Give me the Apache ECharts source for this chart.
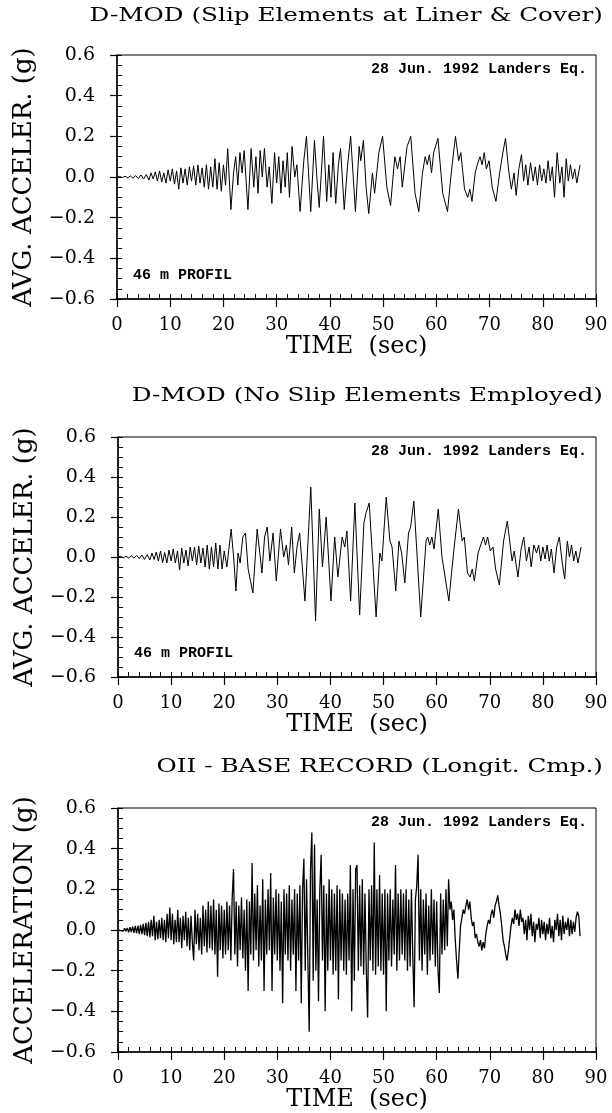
<!DOCTYPE html>
<html>
<head>
<meta charset="utf-8">
<script src="https://cdn.jsdelivr.net/npm/echarts@6.0.0/dist/echarts.min.js"></script>
<style>
html, body { margin: 0; padding: 0; background: #fff; }
#chart { width: 612px; height: 1113px; }
</style>
</head>
<body>
<div id="chart"></div>
<script>
// text
var panelTitles = ['D-MOD (Slip Elements at Liner & Cover)', 'D-MOD (No Slip Elements Employed)', 'OII - BASE RECORD (Longit. Cmp.)'];
var yNames = ['AVG. ACCELER. (g)', 'AVG. ACCELER. (g)', 'ACCELERATION (g)'];
var xName = 'TIME  (sec)';
var eventNote = '28 Jun. 1992 Landers Eq.';
var profileNote = '46 m PROFIL';

// time (s), acceleration (g)
var slipAccel = [[0,0],[0.5,0.003],[1,-0.003],[1.5,0.004],[2,-0.004],[2.5,0.005],[3,-0.006],[3.5,0.007],[4,-0.008],[4.5,0.01],[5,-0.01],[5.5,0.012],[6,-0.015],[6.4,0.02],[6.8,-0.01],[7.2,0.025],[7.6,-0.02],[8,0.03],[8.4,-0.025],[8.8,0.02],[9.2,-0.03],[9.6,0.035],[10,-0.02],[10.4,0.04],[10.8,-0.035],[11.2,0.03],[11.6,-0.06],[12,0.045],[12.4,-0.03],[12.8,0.04],[13.2,-0.04],[13.6,0.05],[14,-0.02],[14.4,0.055],[14.8,-0.04],[15.2,0.06],[15.6,-0.03],[16,0.045],[16.4,-0.05],[16.8,0.06],[17.2,-0.06],[17.6,0.05],[18,-0.05],[18.4,0.09],[18.8,-0.06],[19.2,0.07],[19.6,-0.07],[20,0.06],[20.4,-0.04],[20.8,0.14],[21.4,-0.16],[21.9,0.02],[22.3,0.1],[22.7,-0.04],[23.1,0.12],[23.5,0.02],[23.9,0.13],[24.6,-0.16],[25.2,0.14],[25.7,-0.05],[26.1,0.1],[26.5,-0.08],[26.9,0.13],[27.3,0],[27.7,0.14],[28.2,-0.05],[28.6,0.05],[29.1,-0.13],[29.6,0.12],[30,-0.03],[30.4,0.1],[30.8,-0.08],[31.2,0.08],[31.6,-0.05],[32,0.12],[32.4,-0.1],[32.9,0.15],[33.4,0],[33.8,0.06],[34.4,-0.17],[35.1,0.08],[35.6,0.2],[36.4,-0.17],[37.1,0.18],[37.6,-0.02],[38,-0.15],[38.8,0.2],[39.4,-0.12],[39.8,0.06],[40.2,-0.1],[40.6,0.12],[41.1,-0.13],[41.6,0.06],[42,0.14],[42.7,-0.16],[43.3,0.05],[43.9,0.2],[44.8,-0.17],[45.5,0.15],[45.8,0.08],[46.3,0.18],[46.8,-0.05],[47.3,-0.18],[48,0.02],[48.4,-0.08],[49.2,0.12],[49.9,0.2],[50.7,-0.05],[51.4,-0.14],[52.2,0.1],[52.7,0.04],[53.2,0.1],[53.6,-0.05],[54.5,0.15],[55.2,0.2],[56,-0.08],[56.7,-0.17],[57.4,0.02],[57.9,0.1],[58.3,0.06],[58.7,0.11],[59.1,0.02],[59.5,0.12],[60.3,0.19],[61.2,-0.08],[62.1,-0.17],[62.8,0.02],[63.6,0.2],[64.2,0.08],[64.6,0.12],[65.3,-0.06],[65.9,-0.1],[66.3,-0.06],[66.7,-0.12],[67.3,0.02],[67.7,0.06],[68.2,0.1],[68.6,0.06],[69,0.12],[69.4,0.04],[69.9,0.08],[70.5,-0.05],[71.2,-0.12],[71.9,0.02],[72.5,0.12],[73,0.19],[73.6,0.03],[74.1,-0.06],[74.6,0.02],[75,-0.09],[75.5,0.04],[76,0.11],[76.4,-0.02],[76.8,0.06],[77.2,-0.04],[77.7,0.07],[78.2,-0.02],[78.6,0.05],[79,-0.04],[79.4,0.06],[79.8,-0.02],[80.2,0.04],[80.6,-0.03],[81,0.08],[81.4,-0.02],[81.8,0.05],[82.2,-0.1],[82.7,0.12],[83.2,-0.03],[83.6,0.05],[84,-0.1],[84.4,0.09],[84.8,-0.02],[85.2,0.06],[85.6,-0.01],[86,0.04],[86.4,-0.03],[87,0.06]];

var noSlipAccel = [[0,0],[0.5,0.003],[1,-0.004],[1.5,0.004],[2,-0.005],[2.5,0.006],[3,-0.006],[3.5,0.008],[4,-0.008],[4.5,0.01],[5,-0.012],[5.5,0.012],[6,-0.015],[6.4,0.02],[6.8,-0.012],[7.2,0.025],[7.6,-0.02],[8,0.03],[8.4,-0.028],[8.8,0.022],[9.2,-0.03],[9.6,0.035],[10,-0.02],[10.4,0.04],[10.8,-0.03],[11.2,0.03],[11.6,-0.065],[12,0.045],[12.4,-0.03],[12.8,0.035],[13.2,-0.045],[13.6,0.05],[14,-0.02],[14.4,0.05],[14.8,-0.04],[15.2,0.055],[15.6,-0.03],[16,0.045],[16.4,-0.05],[16.8,0.06],[17.2,-0.06],[17.6,0.05],[18,-0.05],[18.4,0.07],[18.8,-0.06],[19.2,0.06],[19.6,-0.06],[20,0.03],[20.5,-0.05],[21.3,0.14],[21.8,-0.01],[22.2,-0.17],[22.6,0.02],[23,-0.03],[23.5,0.1],[24,0.12],[24.5,-0.06],[25.4,-0.18],[26.2,0.14],[26.7,0.02],[27.1,-0.08],[27.6,0.1],[28.1,0.15],[28.6,-0.02],[29.2,0.12],[29.8,-0.12],[30.6,0.14],[31.2,0],[31.7,0.06],[32.1,-0.04],[32.7,0.15],[33.2,-0.08],[33.7,0.05],[34.2,0.12],[35.2,-0.22],[36.3,0.35],[37.2,-0.32],[37.9,0.24],[38.5,-0.05],[39.2,0.2],[40.1,-0.22],[40.8,0.1],[41.4,-0.1],[42.2,0.1],[42.7,0.05],[43.1,0.13],[43.8,-0.22],[44.6,0.27],[45.5,-0.29],[46.3,0.17],[46.7,0.22],[47.3,0.27],[48.6,-0.3],[49.3,0.02],[49.7,-0.02],[50.5,0.3],[51.2,0.08],[51.6,0.05],[52.3,-0.17],[52.9,0.08],[53.4,0.02],[54,-0.13],[54.7,0.12],[55.1,0.15],[55.7,0.28],[57,-0.3],[58,0.08],[58.3,0.1],[58.7,0.06],[59.1,0.1],[59.5,0.04],[60.3,0.24],[61,0],[62.3,-0.22],[62.8,-0.08],[63.3,0.05],[64.1,0.24],[64.8,0.08],[65.2,0.1],[65.8,-0.08],[66.3,-0.1],[66.7,-0.06],[67.1,-0.12],[67.8,0.02],[68.3,0.06],[68.8,0.1],[69.2,0.06],[69.6,0.1],[70.1,0.03],[70.6,0.05],[71.1,-0.06],[71.8,-0.14],[72.6,0.08],[73.3,0.18],[74.2,-0.02],[74.6,0.03],[75.3,-0.1],[75.9,0.04],[76.4,0.1],[76.9,-0.02],[77.4,0.05],[77.8,-0.05],[78.3,0.06],[78.8,0.02],[79.2,0.06],[79.6,-0.02],[80,0.05],[80.4,-0.01],[80.8,0.06],[81.2,-0.02],[81.6,0.04],[82.1,-0.08],[82.6,0.05],[83.1,0.1],[83.6,-0.02],[84.1,-0.11],[84.6,0.08],[85,0],[85.4,0.06],[85.8,-0.02],[86.2,0.03],[86.6,-0.03],[87.2,0.05]];

// base record, one value every baseStep seconds from t = 0 (one row = 5 s)
var baseStep = 0.25;
var baseAccel = [
  0, 0.004, -0.003, 0.006, -0.005, 0.008, -0.006, 0.01, -0.012, 0.014, -0.01, 0.016, -0.014, 0.02, -0.016, 0.022, -0.02, 0.025, -0.02, 0.03,
  -0.025, 0.035, -0.03, 0.04, -0.035, 0.05, -0.03, 0.07, -0.05, 0.04, -0.045, 0.05, -0.04, 0.06, -0.05, 0.05, -0.06, 0.08, -0.04, 0.11,
  -0.05, 0.08, -0.07, 0.05, -0.06, 0.1, -0.06, 0.06, -0.09, 0.07, -0.05, 0.09, -0.08, 0.06, -0.1, 0.07, -0.06, -0.15, 0.1, -0.07,
  0.08, -0.1, 0.06, -0.12, 0.12, -0.08, 0.1, -0.11, 0.14, -0.09, 0.12, -0.1, 0.15, -0.12, 0.1, -0.23, 0.13, -0.1, 0.12, -0.14,
  0.1, -0.12, 0.14, -0.1, 0.12, -0.15, 0.16, 0.3, -0.12, 0.14, -0.18, 0.12, -0.1, 0.16, -0.14, 0.1, -0.2, 0.15, -0.3, 0.14,
  -0.12, 0.33, -0.15, 0.18, -0.1, 0.22, -0.18, 0.12, -0.15, 0.25, -0.3, 0.15, -0.12, 0.2, -0.1, 0.28, -0.3, 0.16, -0.12, 0.2,
  -0.15, 0.18, -0.2, 0.14, -0.36, 0.2, -0.12, 0.18, -0.15, 0.22, -0.2, 0.15, -0.12, 0.2, -0.3, 0.18, -0.15, 0.22, -0.36, 0.2,
  0.35, -0.2, 0.25, -0.15, -0.5, 0.3, 0.48, -0.25, 0.42, -0.2, 0.15, -0.35, 0.2, 0.37, -0.15, 0.22, -0.4, 0.18, -0.2, 0.25,
  -0.15, 0.2, -0.22, 0.18, -0.2, 0.22, -0.34, 0.2, -0.15, 0.18, -0.2, 0.15, -0.22, 0.18, -0.15, 0.32, -0.4, 0.2, -0.25, 0.3,
  0.32, -0.2, 0.22, -0.18, 0.25, -0.22, 0.18, -0.2, -0.43, 0.2, -0.15, 0.22, -0.2, 0.43, -0.22, 0.2, -0.18, 0.27, -0.2, 0.18,
  -0.22, 0.2, -0.4, 0.18, -0.15, 0.2, -0.18, 0.15, -0.12, 0.32, -0.2, 0.18, -0.15, 0.2, -0.12, 0.18, -0.15, 0.2, -0.2, 0.15,
  -0.18, 0.2, -0.12, -0.38, 0.15, 0.22, 0.37, -0.15, 0.2, -0.2, 0.15, -0.12, 0.18, -0.22, 0.12, -0.15, 0.2, -0.12, 0.15, -0.18,
  0.14, -0.2, -0.31, 0.18, -0.12, 0.15, -0.1, 0.2, -0.08, 0.25, 0.1, 0.14, 0.05, 0.1, -0.05, -0.15, -0.24, -0.1, 0.02, 0.06,
  0.1, 0.08, 0.12, 0.15, 0.1, 0.14, 0.06, 0.02, 0.04, -0.04, -0.02, -0.06, -0.08, -0.05, -0.1, -0.06, -0.09, -0.02, 0.02, 0.05,
  0.03, 0.08, 0.1, 0.06, 0.12, 0.14, 0.17, 0.12, 0.08, 0.02, -0.05, -0.08, -0.12, -0.15, -0.1, -0.04, 0.02, 0.06, 0.03, 0.1,
  0.05, 0.08, 0.02, 0.1, 0.04, 0.06, -0.02, 0.05, -0.05, 0.07, 0, 0.08, -0.03, 0.04, -0.06, 0.03, 0, 0.06, -0.04, 0.05,
  -0.02, 0.04, -0.05, 0.03, -0.02, 0.06, -0.04, 0.02, -0.06, 0.05, 0, 0.08, -0.03, 0.05, -0.05, 0.07, -0.02, 0.04, 0, 0.06,
  -0.03, 0.05, -0.02, 0.04, -0.01, 0.06, 0.09, 0.07, -0.03
];

var baseData = baseAccel.map(function (v, i) { return [i * baseStep, v]; });
var panelData = [slipAccel, noSlipAccel, baseData];

// layout
var gridTops = [55, 437, 808];
var gridHeights = [244, 240, 244];
var gridLefts = [117, 118, 118];
var gridRight = 596;
var titleMids = [16, 396, 767];
var lineWidths = [1, 1, 1.3];
var serif = 'DejaVu Serif';

function fmtY(v) {
    return (Math.round(v * 10) / 10).toFixed(1).replace('-', '\u2212');
}

var grids = [], xAxes = [], yAxes = [], series = [], texts = [];

for (var i = 0; i < 3; i++) {
    grids.push({
        left: gridLefts[i], top: gridTops[i],
        width: gridRight - gridLefts[i], height: gridHeights[i],
        show: true, borderColor: '#000', borderWidth: 1
    });
    // main x axis: labels and outward major ticks
    xAxes.push({
        gridIndex: i, type: 'value', position: 'bottom', min: 0, max: 90, interval: 10,
        axisLine: { onZero: false, lineStyle: { color: '#000', width: 1.5 } },
        axisTick: { inside: false, length: 8, lineStyle: { color: '#000', width: 1.2 } },
        axisLabel: { margin: 17, color: '#000', fontFamily: serif, fontSize: 18 },
        splitLine: { show: false },
        name: xName, nameLocation: 'middle', nameGap: 36,
        nameTextStyle: { color: '#000', fontFamily: serif, fontSize: 24 }
    });
    // minor x ticks pointing in
    xAxes.push({
        gridIndex: i, type: 'value', position: 'bottom', min: 0, max: 90, interval: 2,
        axisLine: { show: false, onZero: false },
        axisTick: { inside: true, length: 5, lineStyle: { color: '#000' } },
        axisLabel: { show: false },
        splitLine: { show: false }
    });
    yAxes.push({
        gridIndex: i, type: 'value', position: 'left', min: -0.6, max: 0.6, interval: 0.2,
        axisLine: { show: true, onZero: false, lineStyle: { color: '#000', width: 1.5 } },
        axisTick: { show: true, inside: false, length: 7, lineStyle: { color: '#000', width: 1.2 } },
        axisLabel: { margin: 22, color: '#000', fontFamily: serif, fontSize: 19, formatter: fmtY },
        splitLine: { show: false },
        name: yNames[i], nameLocation: 'middle', nameGap: 80, nameRotate: 90,
        nameTextStyle: { color: '#000', fontFamily: serif, fontSize: 26 }
    });
    yAxes.push({
        gridIndex: i, type: 'value', position: 'left', min: -0.6, max: 0.6, interval: 0.05,
        axisLine: { show: false, onZero: false },
        axisTick: { show: true, inside: true, length: 5, lineStyle: { color: '#000' } },
        axisLabel: { show: false },
        splitLine: { show: false }
    });
    series.push({
        type: 'line', xAxisIndex: 2 * i, yAxisIndex: 2 * i,
        data: panelData[i], showSymbol: false, silent: true,
        lineStyle: { color: '#000', width: lineWidths[i] }
    });
    // panel title, stretched sideways like the typewriter face of the original
    texts.push({
        type: 'text', x: 603, y: titleMids[i], scaleX: 1.3,
        style: { text: panelTitles[i], align: 'right', verticalAlign: 'middle', fill: '#000', font: '19px "DejaVu Serif"' }
    });
    texts.push({
        type: 'text', x: gridRight - 9, y: gridTops[i] + 14,
        style: { text: eventNote, align: 'right', verticalAlign: 'middle', fill: '#000', font: 'bold 15px "Liberation Mono"' }
    });
    if (i < 2) {
        texts.push({
            type: 'text', x: gridLefts[i] + 16, y: gridTops[i] + gridHeights[i] - 24,
            style: { text: profileNote, align: 'left', verticalAlign: 'middle', fill: '#000', font: 'bold 15px "Liberation Mono"' }
        });
    }
}

var myChart = echarts.init(document.getElementById('chart'));

var option = {
    backgroundColor: '#fff',
    animation: false,
    grid: grids,
    xAxis: xAxes,
    yAxis: yAxes,
    series: series,
    graphic: texts
};

myChart.setOption(option);
</script>
</body>
</html>
